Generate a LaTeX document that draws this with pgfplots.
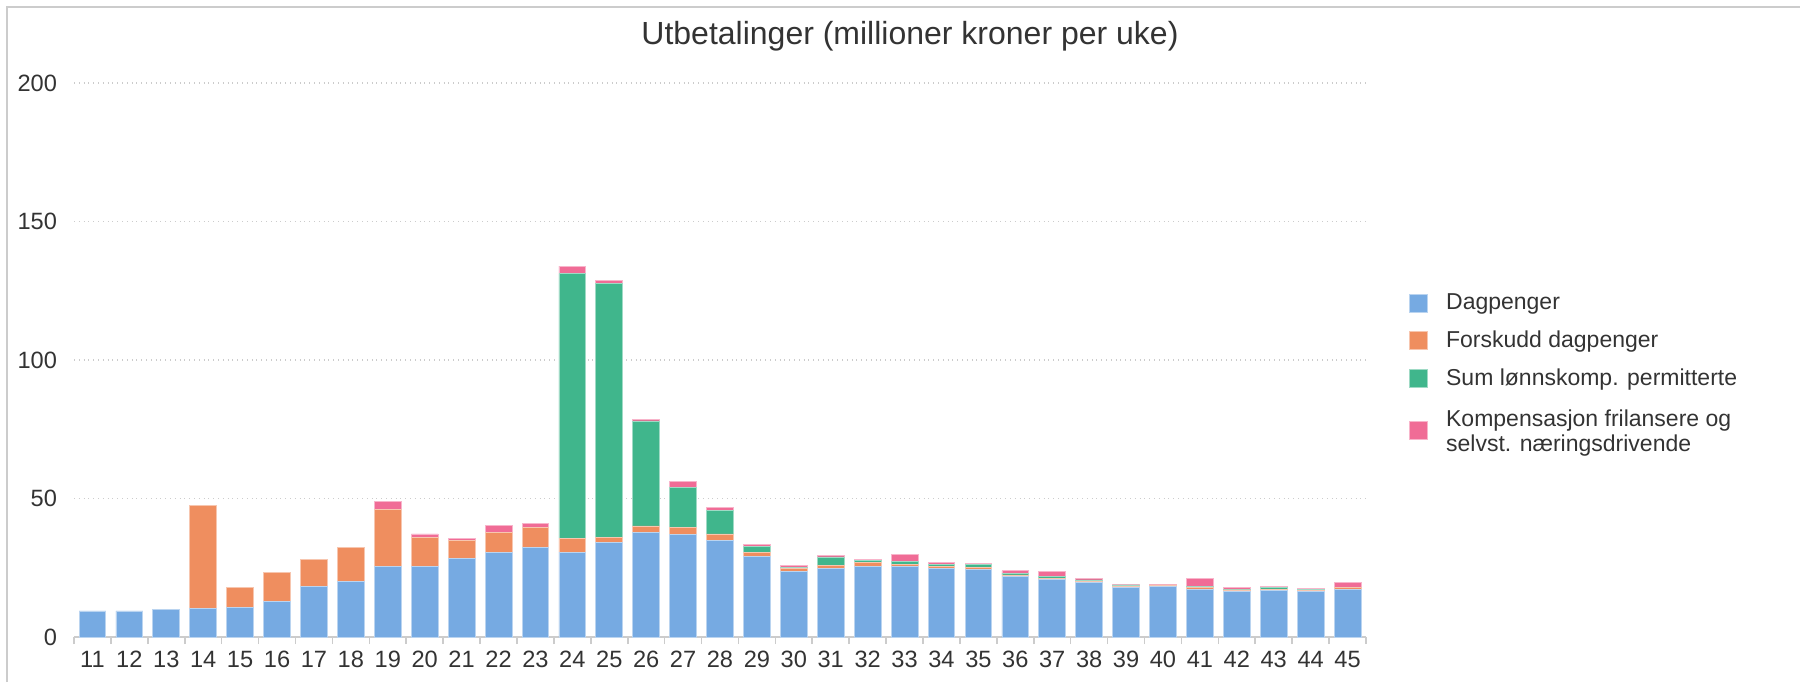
\documentclass[border=0pt]{standalone}
\usepackage{pgfplots}
\usepackage{pgfplotstable}
\pgfplotsset{compat=1.18}
\usepackage{fontspec}
\setmainfont{Liberation Sans}
\definecolor{cD}{RGB}{118,170,226}
\definecolor{cF}{RGB}{239,142,95}
\definecolor{cS}{RGB}{64,182,140}
\definecolor{cK}{RGB}{240,108,150}
\definecolor{gridc}{RGB}{204,204,204}
\definecolor{txt}{RGB}{51,51,51}

\pgfplotstableread{
week D F S K
11 9.4 0 0 0
12 9.4 0 0 0
13 9.9 0 0 0
14 10.2 37.4 0 0
15 10.8 7.0 0 0
16 12.9 10.5 0 0
17 18.1 10.0 0 0
18 20.2 12.2 0 0
19 25.4 20.8 0 2.7
20 25.4 10.5 0 1.3
21 28.2 6.5 0 0.9
22 30.6 7.0 0 2.6
23 32.3 7.1 0 1.5
24 30.6 5.0 95.6 2.7
25 34.0 2.1 91.5 1.0
26 37.7 2.4 37.9 0.7
27 37.0 2.6 14.5 2.2
28 34.9 2.3 8.6 1.1
29 29.2 1.2 2.3 0.6
30 23.8 1.0 0.4 0.5
31 24.8 1.0 3.1 0.4
32 25.5 1.4 0.7 0.4
33 25.4 0.7 1.3 2.5
34 24.8 0.7 0.6 0.7
35 24.4 0.7 1.2 0.4
36 21.7 0.7 0.7 0.8
37 20.8 0.4 0.6 1.9
38 19.6 0.6 0.4 0.7
39 17.8 0.4 0.6 0.3
40 18.1 0.7 0.0 0.1
41 17.2 0.7 0.3 2.9
42 16.6 0.4 0.3 0.5
43 16.9 0.3 0.7 0.3
44 16.5 0.3 0.3 0.4
45 17.2 0.6 0.1 1.9
}\data

\begin{document}
\begin{tikzpicture}
\useasboundingbox (0,0) rectangle (900pt,341pt);
\draw[gridc, line width=0.7pt] (3.5pt,0) -- (3.5pt,337.5pt) -- (900pt,337.5pt);
\node[font=\fontsize{16}{19}\selectfont, text=txt] at (455pt,322.7pt) {Utbetalinger (millioner kroner per uke)};
\begin{axis}[
  at={(37pt,22.5pt)}, anchor=south west,
  scale only axis, width=646pt, height=277pt,
  ybar stacked, bar width=13.4pt,
  xmin=10.5, xmax=45.5, ymin=0, ymax=200,
  xtick={11,...,45}, minor xtick={10.5,11.5,...,45.5},
  ytick={0,50,...,200},
  axis x line*=bottom, axis y line*=left,
  y axis line style={draw=none},
  x axis line style={gridc, line width=1pt},
  ymajorgrids, grid style={gridc, dotted, line width=0.6pt},
  tick align=outside, major tick length=0pt, minor tick length=3.5pt,
  every minor tick/.append style={gridc, line width=0.8pt},
  tick label style={font=\fontsize{11.8}{14}\selectfont, text=txt},
  /pgf/number format/assume math mode=true,
  yticklabel style={xshift=-5pt},
  xticklabel style={yshift=-3.6pt},
  enlargelimits=false, clip=false,
  legend style={at={(1.0286,0.6345)}, anchor=north west, draw=none, fill=none,
    font=\fontsize{11.5}{12.5}\selectfont, text=txt, row sep=5pt,
    cells={anchor=west, align=left},
    /tikz/every odd column/.append style={column sep=7pt}},
  legend image code/.code={\fill[#1] (0pt,-4.5pt) rectangle (9pt,4.5pt);},
]
\addplot[fill=cD, draw=cD!50!white, line width=0.4pt] table[x=week,y=D]{\data};
\addlegendentry{Dagpenger}
\addplot[fill=cF, draw=cF!50!white, line width=0.4pt] table[x=week,y=F]{\data};
\addlegendentry{Forskudd dagpenger}
\addplot[fill=cS, draw=cS!50!white, line width=0.4pt] table[x=week,y=S]{\data};
\addlegendentry{Sum lønnskomp. permitterte}
\addplot[fill=cK, draw=cK!50!white, line width=0.4pt] table[x=week,y=K]{\data};
\addlegendentry{\rule{0pt}{10pt}Kompensasjon frilansere og\\selvst. næringsdrivende}
\end{axis}
\end{tikzpicture}
\end{document}
